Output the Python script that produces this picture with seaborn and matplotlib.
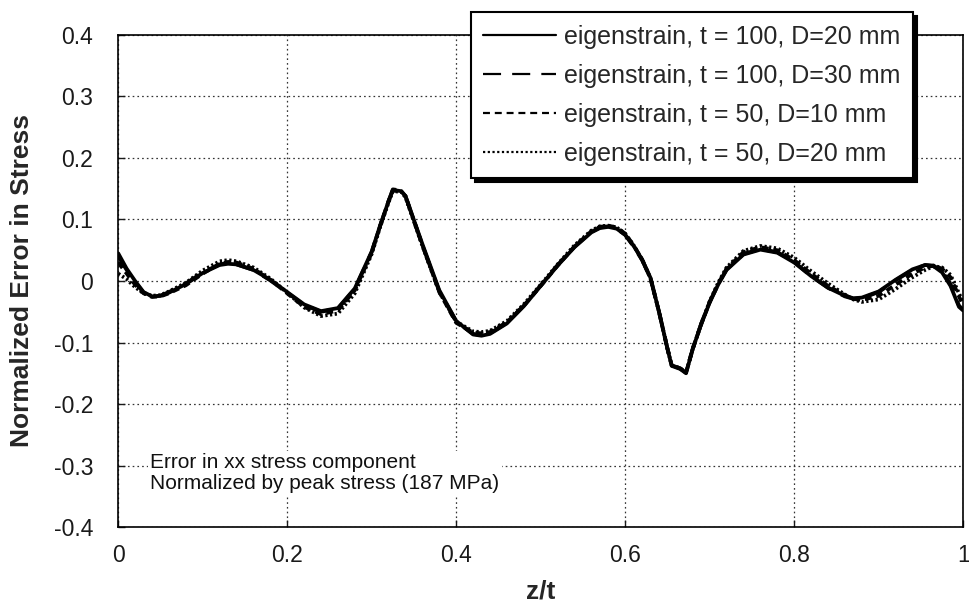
import pandas as pd
import matplotlib
matplotlib.use("Agg")
import matplotlib.pyplot as plt
import seaborn as sns

# z/t positions shared by the four series
z_t = [0, 0.01, 0.02, 0.03, 0.04, 0.05, 0.06, 0.08, 0.10, 0.12,
       0.13, 0.14, 0.16, 0.18, 0.20, 0.22, 0.24, 0.26, 0.28, 0.30,
       0.31, 0.32, 0.325, 0.335, 0.34, 0.36, 0.38, 0.40, 0.42, 0.43,
       0.44, 0.46, 0.48, 0.50, 0.52, 0.54, 0.56, 0.57, 0.58, 0.59,
       0.60, 0.61, 0.62, 0.63, 0.64, 0.65, 0.655, 0.665, 0.672, 0.68,
       0.69, 0.70, 0.71, 0.72, 0.74, 0.76, 0.78, 0.80, 0.82, 0.84,
       0.86, 0.87, 0.88, 0.90, 0.92, 0.94, 0.955, 0.965, 0.975, 0.985,
       0.995, 1.0]

err_t100_d20 = [0.045, 0.02, 0.0, -0.018, -0.025, -0.024, -0.019, -0.005, 0.013, 0.026,
                0.028, 0.027, 0.018, 0.002, -0.018, -0.038, -0.049, -0.044, -0.012, 0.048,
                0.09, 0.13, 0.148, 0.146, 0.138, 0.06, -0.015, -0.065, -0.087, -0.089,
                -0.086, -0.069, -0.041, -0.008, 0.025, 0.055, 0.079, 0.086, 0.088, 0.085,
                0.075, 0.057, 0.035, 0.005, -0.05, -0.11, -0.138, -0.143, -0.15, -0.11,
                -0.07, -0.035, -0.006, 0.018, 0.043, 0.051, 0.046, 0.03, 0.008, -0.011,
                -0.024, -0.028, -0.027, -0.017, 0.002, 0.019, 0.026, 0.024, 0.014, -0.008,
                -0.042, -0.048]

err_t100_d30 = [0.04, 0.018, -0.002, -0.019, -0.025, -0.024, -0.018, -0.004, 0.014, 0.027,
                0.029, 0.027, 0.018, 0.001, -0.019, -0.039, -0.05, -0.045, -0.013, 0.047,
                0.09, 0.13, 0.149, 0.147, 0.138, 0.058, -0.017, -0.066, -0.086, -0.088,
                -0.085, -0.068, -0.04, -0.007, 0.026, 0.056, 0.08, 0.087, 0.089, 0.085,
                0.075, 0.056, 0.034, 0.004, -0.05, -0.11, -0.137, -0.142, -0.149, -0.11,
                -0.069, -0.034, -0.005, 0.019, 0.044, 0.052, 0.047, 0.031, 0.008, -0.011,
                -0.025, -0.029, -0.028, -0.018, 0.001, 0.018, 0.026, 0.025, 0.016, -0.005,
                -0.04, -0.047]

err_t50_d10 = [0.03, 0.012, -0.006, -0.02, -0.026, -0.025, -0.02, -0.007, 0.012, 0.028,
               0.031, 0.03, 0.02, 0.002, -0.02, -0.042, -0.054, -0.048, -0.015, 0.046,
               0.09, 0.13, 0.147, 0.146, 0.138, 0.058, -0.018, -0.068, -0.084, -0.085,
               -0.083, -0.067, -0.04, -0.008, 0.025, 0.056, 0.081, 0.088, 0.09, 0.087,
               0.077, 0.058, 0.035, 0.004, -0.05, -0.11, -0.137, -0.142, -0.149, -0.11,
               -0.07, -0.034, -0.005, 0.02, 0.047, 0.055, 0.05, 0.034, 0.012, -0.008,
               -0.023, -0.029, -0.031, -0.024, -0.006, 0.012, 0.022, 0.025, 0.02, 0.006,
               -0.025, -0.04]

err_t50_d20 = [0.012, 0.003, -0.01, -0.02, -0.024, -0.023, -0.017, -0.003, 0.017, 0.032,
               0.034, 0.032, 0.022, 0.004, -0.019, -0.043, -0.057, -0.053, -0.02, 0.044,
               0.088, 0.128, 0.146, 0.145, 0.136, 0.057, -0.018, -0.066, -0.082, -0.083,
               -0.081, -0.065, -0.038, -0.006, 0.027, 0.058, 0.082, 0.089, 0.09, 0.087,
               0.077, 0.058, 0.035, 0.004, -0.05, -0.11, -0.137, -0.142, -0.149, -0.11,
               -0.07, -0.033, -0.003, 0.022, 0.049, 0.057, 0.053, 0.038, 0.016, -0.004,
               -0.022, -0.03, -0.034, -0.03, -0.013, 0.006, 0.018, 0.024, 0.022, 0.01,
               -0.02, -0.035]

series_names = ["eigenstrain, t = 100, D=20 mm",
                "eigenstrain, t = 100, D=30 mm",
                "eigenstrain, t = 50, D=10 mm",
                "eigenstrain, t = 50, D=20 mm"]

x_ticks = [0, 0.2, 0.4, 0.6, 0.8, 1]
x_tick_labels = ["0", "0.2", "0.4", "0.6", "0.8", "1"]
y_ticks = [-0.4, -0.3, -0.2, -0.1, 0, 0.1, 0.2, 0.3, 0.4]
y_tick_labels = ["-0.4", "-0.3", "-0.2", "-0.1", "0", "0.1", "0.2", "0.3", "0.4"]

note = "Error in xx stress component\nNormalized by peak stress (187 MPa)"

# long form table for seaborn
frames = []
for name, vals in zip(series_names, [err_t100_d20, err_t100_d30, err_t50_d10, err_t50_d20]):
    frames.append(pd.DataFrame({"z/t": z_t, "err": vals, "series": name}))
df = pd.concat(frames, ignore_index=True)

sns.set_theme(style="ticks")
plt.rcParams["font.family"] = ["Liberation Sans", "DejaVu Sans"]
plt.rcParams["lines.scale_dashes"] = False
plt.rcParams["axes.unicode_minus"] = False

fig = plt.figure(figsize=(9.69, 6.03), dpi=100)
ax = fig.add_axes([0.122, 0.126, 0.872, 0.816])

# dash patterns in points (solid, long dash, short dash, dotted)
dash_styles = {series_names[0]: "",
               series_names[1]: (13, 8),
               series_names[2]: (5, 3.5),
               series_names[3]: (1.6, 1.8)}

sns.lineplot(data=df, x="z/t", y="err", hue="series", style="series",
             palette=["black"] * 4, dashes=dash_styles, linewidth=2.7,
             sort=False, ax=ax, legend=True)

ax.set_xlim(0, 1)
ax.set_ylim(-0.4, 0.4)
ax.set_xticks(x_ticks)
ax.set_xticklabels(x_tick_labels)
ax.set_yticks(y_ticks)
ax.set_yticklabels(y_tick_labels)
ax.tick_params(axis="both", direction="in", length=5, width=1, labelsize=16.5,
               colors="#1a1a1a")
ax.tick_params(axis="x", pad=12)
ax.tick_params(axis="y", pad=18)
ax.grid(True, linestyle=(0, (1.2, 2.2)), color="#333333", linewidth=0.9)
for s in ax.spines.values():
    s.set_color("black")
    s.set_linewidth(1.2)

ax.set_xlabel("z/t", fontsize=19, fontweight="bold", labelpad=9)
ax.set_ylabel("Normalized Error in Stress", fontsize=19, fontweight="bold", labelpad=14)

# note box hides the grid behind it
ax.text(0.038, -0.28, note, fontsize=15, ha="left", va="top", color="#111111",
        linespacing=1.1,
        bbox=dict(facecolor="white", edgecolor="none", pad=2))

handles, labels = ax.get_legend_handles_labels()
leg = ax.legend(handles, labels, loc="upper right", bbox_to_anchor=(0.942, 0.98),
                bbox_transform=fig.transFigure, borderaxespad=0, fontsize=18,
                frameon=True, fancybox=False, handlelength=2.9, handletextpad=0.32,
                labelspacing=0.6, borderpad=0.5,
                shadow={"ox": 3, "oy": -3, "color": "black", "alpha": 1})
leg.get_frame().set_edgecolor("black")
leg.get_frame().set_linewidth(1.5)
leg.get_frame().set_facecolor("white")
for line in leg.get_lines():
    line.set_linewidth(1.6)
leg.set_zorder(10)

fig.savefig("out.png", dpi=100)
